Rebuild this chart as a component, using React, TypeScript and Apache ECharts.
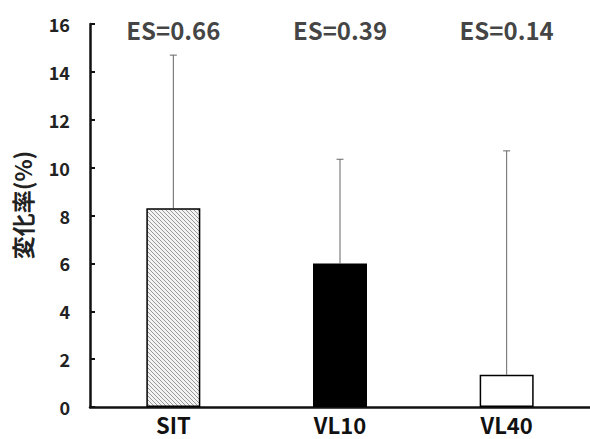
import React, { useEffect, useRef } from "react";
import * as echarts from "echarts";

const categories = ["SIT", "VL10", "VL40"];
const means = [8.3, 6.0, 1.35];
const errorTops = [14.7, 10.35, 10.7];
const esLabels = ["ES=0.66", "ES=0.39", "ES=0.14"];
const yTicks = { min: 0, max: 16, interval: 2 };
const yName = "変化率(%)";

function makeHatch(): HTMLCanvasElement {
  const c = document.createElement("canvas");
  c.width = 4;
  c.height = 4;
  const ctx = c.getContext("2d")!;
  ctx.fillStyle = "#f3f3f3";
  ctx.fillRect(0, 0, 4, 4);
  ctx.strokeStyle = "#9a9a9a";
  ctx.lineWidth = 1;
  ctx.beginPath();
  ctx.moveTo(-1, -1);
  ctx.lineTo(5, 5);
  ctx.moveTo(-1, 3);
  ctx.lineTo(1, 5);
  ctx.moveTo(3, -1);
  ctx.lineTo(5, 1);
  ctx.stroke();
  return c;
}

export default function App() {
  const ref = useRef<HTMLDivElement>(null);
  useEffect(() => {
    document.body.style.margin = "0";
    document.documentElement.style.overflow = "hidden";
    const chart = echarts.init(ref.current!, null, { renderer: "svg" });
    const hatch = makeHatch();
    const font = "'Noto Sans CJK JP', 'Noto Sans', sans-serif";
    const fills: any[] = [
      { image: hatch, repeat: "repeat" },
      "#000000",
      "#ffffff",
    ];
    chart.setOption({
      animation: false,
      backgroundColor: "#ffffff",
      textStyle: { fontFamily: font },
      grid: { left: 90, top: 24, height: 383, width: 500 },
      graphic: [
        {
          type: "text",
          x: 22,
          y: 205,
          rotation: Math.PI / 2,
          style: {
            text: yName,
            font: `bold 23px ${font}`,
            fill: "#222",
            align: "center",
            verticalAlign: "middle",
          },
        },
      ],
      xAxis: {
        type: "category",
        data: categories,
        axisLine: { lineStyle: { color: "#111", width: 2.5 } },
        axisTick: { show: false },
        axisLabel: {
          color: "#111",
          fontWeight: "bold",
          fontSize: 22,
          lineHeight: 22,
          margin: 6,
          fontFamily: font,
        },
      },
      yAxis: {
        type: "value",
        min: yTicks.min,
        max: yTicks.max,
        interval: yTicks.interval,
        splitLine: { show: false },
        axisLine: { show: true, lineStyle: { color: "#111", width: 2.5 } },
        axisTick: { show: true, inside: true, length: 5, lineStyle: { color: "#111", width: 2 } },
        axisLabel: {
          color: "#222",
          fontWeight: "bold",
          fontSize: 18,
          margin: 20,
          fontFamily: font,
        },
      },
      series: [
        {
          type: "bar",
          barWidth: 54,
          data: means.map((v, i) => ({
            value: v,
            itemStyle: { color: fills[i], borderColor: "#000", borderWidth: 1.5 },
          })),
          z: 2,
        },
        {
          type: "custom",
          z: 1,
          data: categories.map((_, i) => [i, means[i], errorTops[i]]),
          renderItem: (params: any, api: any) => {
            const x = api.value(0);
            const lo = api.coord([x, api.value(1)]);
            const hi = api.coord([x, api.value(2)]);
            const cap = 3.5;
            return {
              type: "group",
              children: [
                {
                  type: "line",
                  shape: { x1: lo[0], y1: lo[1], x2: hi[0], y2: hi[1] },
                  style: { stroke: "#666", lineWidth: 1 },
                },
                {
                  type: "line",
                  shape: { x1: hi[0] - cap, y1: hi[1], x2: hi[0] + cap, y2: hi[1] },
                  style: { stroke: "#666", lineWidth: 1 },
                },
              ],
            };
          },
        },
        {
          type: "scatter",
          symbolSize: 0,
          data: esLabels.map((t, i) => ({ value: [i, 15.75], name: t })),
          label: {
            show: true,
            position: "inside",
            formatter: (p: any) => p.name,
            color: "#111",
            fontWeight: "bold",
            fontSize: 24,
            fontFamily: font,
          },
        },
      ],
    });
    return () => chart.dispose();
  }, []);
  return <div ref={ref} style={{ width: 590, height: 439 }} />;
}
